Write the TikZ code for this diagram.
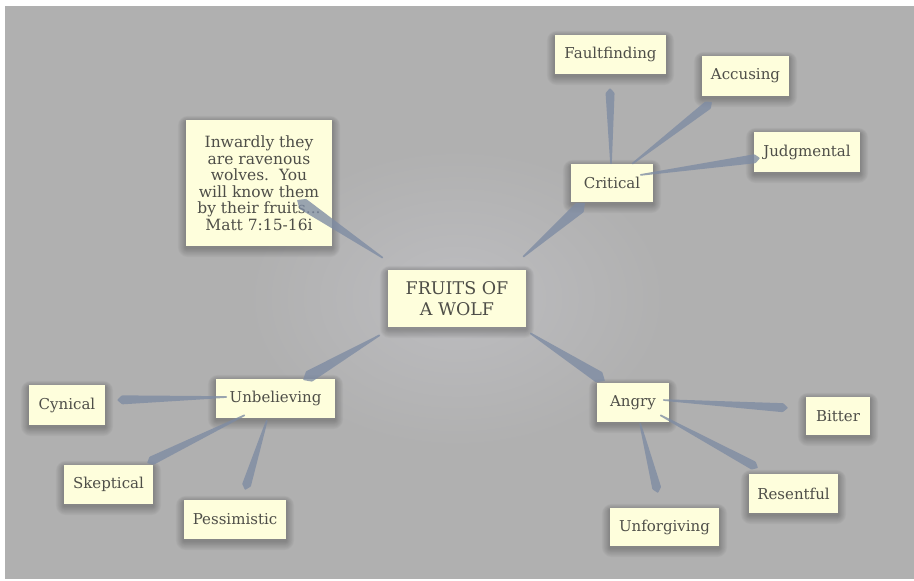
\documentclass[tikz,border=0pt]{standalone}
\usepackage{fontspec}
\setmainfont{DejaVu Serif}
\usetikzlibrary{calc}
\definecolor{bg}{HTML}{B0B0B0}
\definecolor{glow}{HTML}{BDBDC0}
\definecolor{boxfill}{HTML}{FEFEDC}
\definecolor{txt}{HTML}{4E4E48}
\definecolor{wedgec}{HTML}{7D8BA3}
\pgfdeclarelayer{shad}
\pgfsetlayers{shad,main}
\tikzset{
  card/.style={fill=boxfill, draw=none, text=txt, inner sep=0pt, align=center,
    font=\fontsize{15}{18}\selectfont},
  rootcard/.style={card, font=\fontsize{17.5}{21}\selectfont},
  quotecard/.style={card, font=\fontsize{15.5}{16.5}\selectfont},
  wedgestyle/.style={fill=wedgec, fill opacity=0.78, rounded corners=0.7pt},
  shadowlayer/.style={fill=black, fill opacity=0.025}
}
\newcommand\wedgeconn[4][4.5pt]{%
  \path (#3) coordinate (wS) (#4) coordinate (wT);
  \path ($(wT)!#2!(wS)$) coordinate (wB);
  \fill[wedgestyle] ($(wS)!0.8pt!90:(wT)$) -- ($(wB)!#1!-90:(wS)$) -- (wT) --
     ($(wB)!#1!90:(wS)$) -- ($(wS)!0.8pt!-90:(wT)$) -- cycle;
}
\newcommand\softshadow[1]{%
  \begin{pgfonlayer}{shad}
  \foreach \k in {1,...,10}{
    \fill[shadowlayer, rounded corners=\k pt]
      ($(#1.north west)+(-0.8*\k,-0.6*\k+2)$) rectangle ($(#1.south east)+(0.8*\k,0.9*\k+2)$);
  }
  \end{pgfonlayer}}
\begin{document}
\begin{tikzpicture}[x=1pt,y=-1pt]
\begin{pgfonlayer}{shad}
\useasboundingbox (0,0) rectangle (914,581);
\fill[white] (0,0) rectangle (914,581);
\fill[bg] (5,6) rectangle (914,579);
\shade[inner color=glow, outer color=bg] (457,298) ellipse (210pt and 150pt);
\end{pgfonlayer}

% nodes
\node[quotecard, minimum width=146pt, minimum height=126pt] (quote) at (259,183)
  {Inwardly they\\are ravenous\\wolves.\ \ You\\will know them\\by their fruits...\\Matt 7:15-16i};
\node[rootcard, minimum width=138pt, minimum height=57pt] (root) at (457,298.5) {FRUITS OF\\A WOLF};
\node[card, minimum width=111pt, minimum height=39pt] (fault) at (610.5,54.5) {Faultfinding};
\node[card, minimum width=87pt, minimum height=40pt] (accus) at (745.5,76) {Accusing};
\node[card, minimum width=106pt, minimum height=40pt] (judg) at (807,152) {Judgmental};
\node[card, minimum width=82pt, minimum height=38pt] (crit) at (612,183) {Critical};
\node[card, minimum width=76pt, minimum height=40pt] (cyn) at (67,405) {Cynical};
\node[card, minimum width=119pt, minimum height=39pt] (unbel) at (275.5,398.5) {Unbelieving};
\node[card, minimum width=89pt, minimum height=39pt] (skep) at (108.5,484.5) {Skeptical};
\node[card, minimum width=102pt, minimum height=39pt] (pess) at (235,519.5) {Pessimistic};
\node[card, minimum width=72pt, minimum height=39pt] (angry) at (633,402.5) {Angry};
\node[card, minimum width=64pt, minimum height=38pt] (bitter) at (838,416) {Bitter};
\node[card, minimum width=89pt, minimum height=39pt] (resent) at (793.5,493.5) {Resentful};
\node[card, minimum width=109pt, minimum height=38pt] (unforg) at (664.5,527) {Unforgiving};

\foreach \n in {quote,root,fault,accus,judg,crit,cyn,unbel,skep,pess,angry,bitter,resent,unforg}{
  \softshadow{\n}
}

% tapered connectors
\wedgeconn[6pt]{7pt}{$(root)+(-74,-40.5)$}{$(quote)+(38,17)$}
\wedgeconn[6pt]{7pt}{$(root)+(66,-41.5)$}{$(crit)+(-27,20)$}
\wedgeconn[6pt]{7pt}{$(root)+(-77,36.5)$}{$(unbel)+(27.5,-18.5)$}
\wedgeconn[6pt]{7pt}{$(root)+(73,34.5)$}{$(angry)+(-28,-21.5)$}
\wedgeconn[4.5pt]{5pt}{$(crit)+(-1,-19)$}{$(fault)+(-0.5,33.5)$}
\wedgeconn[4.5pt]{5pt}{$(crit)+(20,-19)$}{$(accus)+(-33.5,26)$}
\wedgeconn[4.5pt]{5pt}{$(crit)+(28,-8)$}{$(judg)+(-47,6)$}
\wedgeconn[4.5pt]{5pt}{$(unbel)+(-48.5,-1.5)$}{$(cyn)+(50,-5)$}
\wedgeconn[4.5pt]{5pt}{$(unbel)+(-30.5,16.5)$}{$(skep)+(38.5,-21.5)$}
\wedgeconn[4.5pt]{5pt}{$(unbel)+(-8.5,21.5)$}{$(pess)+(10,-29.5)$}
\wedgeconn[4.5pt]{5pt}{$(angry)+(30,-2.5)$}{$(bitter)+(-50,-8)$}
\wedgeconn[4.5pt]{5pt}{$(angry)+(27,12.5)$}{$(resent)+(-35.5,-25.5)$}
\wedgeconn[4.5pt]{5pt}{$(angry)+(7,20.5)$}{$(unforg)+(-6.5,-34)$}
\end{tikzpicture}
\end{document}
